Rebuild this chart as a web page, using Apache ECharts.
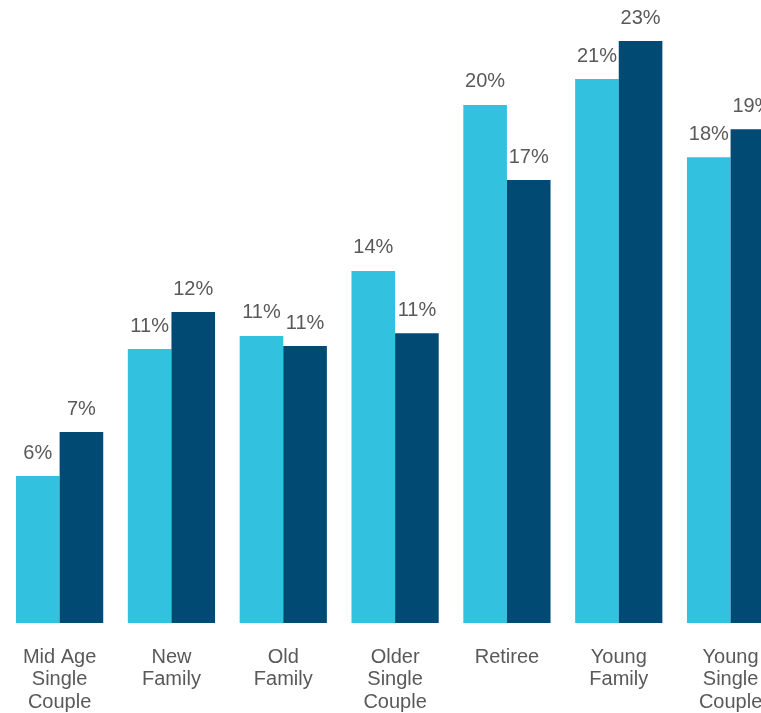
<!DOCTYPE html>
<html>
<head>
<meta charset="utf-8">
<script src="https://cdn.jsdelivr.net/npm/echarts@6/dist/echarts.min.js"></script>
<style>html,body{margin:0;padding:0;background:#fff}#c{width:761px;height:713px}</style>
</head>
<body>
<div id="c"></div>
<script>
const categories = ['Mid Age\nSingle\nCouple', 'New\nFamily', 'Old\nFamily', 'Older\nSingle\nCouple', 'Retiree', 'Young\nFamily', 'Young\nSingle\nCouple'];
const seriesA = [5.72, 10.66, 11.17, 13.70, 20.16, 21.17, 18.13];
const seriesB = [7.43, 12.10, 10.78, 11.28, 17.24, 22.65, 19.22];

const FONT = "'Liberation Sans', Arial, sans-serif";
const chart = echarts.init(document.getElementById('c'));
const labelStyle = {
  show: true, position: 'top', distance: 13,
  color: '#595959', fontSize: 20, fontFamily: FONT,
  formatter: p => Math.round(p.value) + '%'
};
chart.setOption({
  animation: false,
  grid: { left: 3.7, right: -25.5, top: 41, bottom: 90, containLabel: false, outerBoundsMode: 'none' },
  xAxis: {
    type: 'category', data: categories,
    axisLine: { show: false }, axisTick: { show: false },
    axisLabel: { color: '#595959', fontSize: 20, lineHeight: 22.5, margin: 23, interval: 0, fontFamily: FONT }
  },
  yAxis: { type: 'value', min: 0, max: 22.65, show: false, splitLine: { show: false } },
  series: [
    { type: 'bar', data: seriesA, barGap: '0%', barCategoryGap: '22%', itemStyle: { color: '#33C1E0' }, label: labelStyle },
    { type: 'bar', data: seriesB, barGap: '0%', barCategoryGap: '22%', itemStyle: { color: '#004A73' }, label: labelStyle }
  ]
});
</script>
</body>
</html>
